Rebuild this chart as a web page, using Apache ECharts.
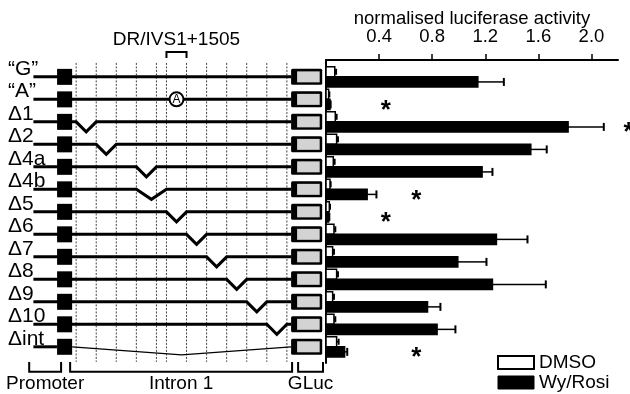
<!DOCTYPE html>
<html>
<head>
<meta charset="utf-8">
<script src="https://cdn.jsdelivr.net/npm/echarts@6/dist/echarts.min.js"></script>
<style>
  html, body { margin: 0; padding: 0; background: #fff; }
  #chart { width: 630px; height: 394px; }
</style>
</head>
<body>
<div id="chart"></div>
<script>
// constructs, top to bottom
const rowLabels = ["“G”", "“A”", "Δ1", "Δ2", "Δ4a", "Δ4b", "Δ5", "Δ6", "Δ7", "Δ8", "Δ9", "Δ10", "Δint"];
// normalised luciferase activity (mean, error)
const dmso = [0.066, 0.02, 0.07, 0.08, 0.055, 0.03, 0.025, 0.06, 0.05, 0.08, 0.05, 0.06, 0.08];
const dmsoErr = [0.01, 0.005, 0.01, 0.01, 0.01, 0.005, 0.005, 0.01, 0.01, 0.01, 0.01, 0.01, 0.015];
const wyRosi = [1.144, 0.03, 1.824, 1.543, 1.176, 0.31, 0.02, 1.284, 0.993, 1.254, 0.765, 0.837, 0.14];
const wyRosiErr = [0.196, 0.005, 0.269, 0.12, 0.078, 0.07, 0.005, 0.234, 0.216, 0.402, 0.097, 0.138, 0.02];
const xTicks = [0.4, 0.8, 1.2, 1.6, 2.0];
// significance stars
const starRows = [1, 2, 5, 6, 12];
const starX = [0.45, 2.28, 0.68, 0.45, 0.68];
// intron 1 schematic, in segment units
const intronMarks = [0, 1, 2, 3, 4, 4.5, 5.5, 6.5, 7.5, 8.5, 9.5, 10.5];
const delFrom = [null, null, 0, 1, 3, 3, 4.5, 5.5, 6.5, 7.5, 8.5, 9.5, 0];
const delTo = [null, null, 1, 2, 4, 4.5, 5.5, 6.5, 7.5, 8.5, 9.5, 10.5, 10.5];
const snpRow = 1;
const snpLabel = "A";
const drLabel = "DR/IVS1+1505";
const partNames = ["Promoter", "Intron 1", "GLuc"];
const partFrom = [-2.34, -0.3, 11.06];
const partTo = [-0.75, 10.76, 12.3];

const FONT = "Liberation Sans, Arial, Helvetica, sans-serif";
const LINE_START = -2.13;
const PROM = [-0.95, -0.2];
const GLUC = [10.71, 12.26];
const Y_MIN = -0.75, Y_MAX = 12.72;

let myChart = echarts.init(document.getElementById("chart"));

function barItem(side, capH) {
  return function (params, api) {
    let v = api.value(0), i = api.value(1), e = api.value(2);
    let c = api.coord([0, i]);
    let x1 = api.coord([v, i])[0];
    let xe = api.coord([v + e, i])[0];
    let h = Math.abs(api.size([0, 1])[1]) * 0.45;
    let top = side < 0 ? c[1] - h : c[1];
    let mid = top + h / 2;
    return {
      type: "group",
      children: [
        { type: "line", shape: { x1: x1, y1: mid, x2: xe, y2: mid }, style: { stroke: "#000", lineWidth: 1.5 } },
        { type: "line", shape: { x1: xe, y1: mid - capH / 2, x2: xe, y2: mid + capH / 2 }, style: { stroke: "#000", lineWidth: 2 } },
        { type: "rect", shape: { x: c[0], y: top, width: x1 - c[0], height: h }, style: { fill: api.visual("color"), stroke: "#000", lineWidth: 1.5 } },
      ],
    };
  };
}

function schematicRow(params, api) {
  let k = params.dataIndex;
  let i = api.value(1);
  let y = api.coord([0, i])[1];
  let X = function (u) { return api.coord([u, i])[0]; };
  let kids = [];
  let thick = { stroke: "#000", lineWidth: 3, fill: null };
  let a = delFrom[k], b = delTo[k];
  if (a == null) {
    kids.push({ type: "polyline", shape: { points: [[X(LINE_START), y], [X(GLUC[0]), y]] }, style: thick });
  } else if (a === intronMarks[0] && b === intronMarks[intronMarks.length - 1]) {
    // whole intron removed
    kids.push({ type: "polyline", shape: { points: [[X(LINE_START), y], [X(PROM[0]), y]] }, style: thick });
    kids.push({
      type: "polyline",
      shape: { points: [[X(PROM[1]), y], [X((PROM[1] + GLUC[0]) / 2), y + 8], [X(GLUC[0]), y]] },
      style: { stroke: "#000", lineWidth: 1.2, fill: null },
    });
  } else {
    kids.push({
      type: "polyline",
      shape: { points: [[X(LINE_START), y], [X(a), y], [X((a + b) / 2), y + 10], [X(b), y], [X(GLUC[0]), y]] },
      style: thick,
    });
  }
  // promoter
  kids.push({ type: "rect", shape: { x: X(PROM[0]), y: y - 8, width: X(PROM[1]) - X(PROM[0]), height: 16 }, style: { fill: "#000" } });
  // GLuc
  let g0 = X(GLUC[0]), g1 = X(GLUC[1]);
  kids.push({ type: "rect", shape: { x: g0, y: y - 8, width: g1 - g0, height: 16, r: 1.5 }, style: { fill: "#000" } });
  kids.push({ type: "rect", shape: { x: g0 + 6, y: y - 5.5, width: g1 - g0 - 8.5, height: 11 }, style: { fill: "#d3d3d3" } });
  if (k === snpRow) {
    let sx = X((intronMarks[5] + intronMarks[6]) / 2);
    kids.push({ type: "circle", shape: { cx: sx, cy: y, r: 7 }, style: { fill: "#fff", stroke: "#000", lineWidth: 2 } });
    kids.push({ type: "text", x: sx, y: y + 0.5, style: { text: snpLabel, fontSize: 12, fontFamily: FONT, fill: "#000", align: "center", verticalAlign: "middle" } });
  }
  kids.push({ type: "text", x: 8, y: y - 8, style: { text: rowLabels[k], fontSize: 21, fontFamily: FONT, fill: "#000", align: "left", verticalAlign: "middle" } });
  return { type: "group", children: kids };
}

function dottedMark(params, api) {
  let u = api.value(0);
  let p0 = api.coord([u, -0.62]);
  let p1 = api.coord([u, 12.67]);
  return { type: "line", shape: { x1: p0[0], y1: p0[1], x2: p1[0], y2: p1[1] }, style: { stroke: "#444", lineWidth: 1, lineDash: [2, 1.5] } };
}

function partBracket(params, api) {
  let k = params.dataIndex;
  let a = api.coord([api.value(0), 12.67]);
  let b = api.coord([api.value(1), 13.11]);
  let t = api.coord([(api.value(0) + api.value(1)) / 2, 13.64]);
  return {
    type: "group",
    children: [
      { type: "polyline", shape: { points: [[a[0], a[1]], [a[0], b[1]], [b[0], b[1]], [b[0], a[1]]] }, style: { stroke: "#000", lineWidth: 2, fill: null } },
      { type: "text", x: t[0], y: t[1], style: { text: partNames[k], fontSize: 19, fontFamily: FONT, fill: "#000", align: "center", verticalAlign: "middle" } },
    ],
  };
}

function drBracket(params, api) {
  let a = api.coord([api.value(0), -0.84]);
  let b = api.coord([api.value(1), -1.11]);
  let t = api.coord([(api.value(0) + api.value(1)) / 2, -1.64]);
  return {
    type: "group",
    children: [
      { type: "polyline", shape: { points: [[a[0], a[1]], [a[0], b[1]], [b[0], b[1]], [b[0], a[1]]] }, style: { stroke: "#000", lineWidth: 2, fill: null } },
      { type: "text", x: t[0], y: t[1], style: { text: drLabel, fontSize: 19, fontFamily: FONT, fill: "#000", align: "center", verticalAlign: "middle" } },
    ],
  };
}

function starItem(params, api) {
  let p = api.coord([api.value(0), api.value(1) + 0.5]);
  return { type: "text", x: p[0], y: p[1], style: { text: "*", fontSize: 26, fontWeight: "bold", fontFamily: FONT, fill: "#000", align: "center", verticalAlign: "middle" } };
}

let option = {
  animation: false,
  textStyle: { fontFamily: FONT },
  legend: {
    orient: "vertical",
    left: 497,
    top: 353,
    padding: 0,
    itemWidth: 36,
    itemHeight: 13,
    itemGap: 1,
    icon: "rect",
    textStyle: { fontSize: 19, color: "#000", fontFamily: FONT, lineHeight: 18 },
    data: [
      { name: "DMSO", itemStyle: { color: "#fff", borderColor: "#000", borderWidth: 2 } },
      { name: "Wy/Rosi", itemStyle: { color: "#000", borderColor: "#000", borderWidth: 1 } },
    ],
  },
  grid: [
    { left: 326, top: 60, width: 292, height: 303 },
    { left: 32, top: 60, width: 291, height: 303 },
  ],
  xAxis: [
    {
      gridIndex: 0,
      type: "value",
      position: "top",
      min: 0,
      max: 2.2,
      interval: 0.4,
      name: "normalised luciferase activity",
      nameLocation: "middle",
      nameGap: 32,
      nameMoveOverlap: false,
      nameTextStyle: { fontSize: 18.5, color: "#000", fontFamily: FONT },
      axisLine: { show: true, onZero: false, lineStyle: { color: "#000", width: 2 } },
      axisTick: { show: true, length: 6, customValues: xTicks, lineStyle: { color: "#000", width: 1.5 } },
      axisLabel: {
        customValues: xTicks,
        fontSize: 18.5,
        color: "#000",
        margin: 14,
        formatter: function (v) { return v.toFixed(1); },
      },
      splitLine: { show: false },
    },
    { gridIndex: 1, type: "value", min: -2.2, max: 12.3, show: false },
  ],
  yAxis: [
    {
      gridIndex: 0,
      type: "value",
      min: Y_MIN,
      max: Y_MAX,
      inverse: true,
      axisLine: { show: true, onZero: false, lineStyle: { color: "#000", width: 2 } },
      axisTick: { show: false },
      axisLabel: { show: false },
      splitLine: { show: false },
    },
    { gridIndex: 1, type: "value", min: Y_MIN, max: Y_MAX, inverse: true, show: false },
  ],
  series: [
    {
      type: "custom",
      xAxisIndex: 1,
      yAxisIndex: 1,
      clip: false,
      silent: true,
      renderItem: dottedMark,
      data: intronMarks.map(function (u) { return [u, 0]; }),
    },
    {
      type: "custom",
      xAxisIndex: 1,
      yAxisIndex: 1,
      clip: false,
      silent: true,
      renderItem: schematicRow,
      data: rowLabels.map(function (_, i) { return [0, i]; }),
    },
    {
      type: "custom",
      xAxisIndex: 1,
      yAxisIndex: 1,
      clip: false,
      silent: true,
      renderItem: partBracket,
      encode: { x: [0, 1], y: 2 },
      data: partNames.map(function (_, k) { return [partFrom[k], partTo[k], 12.67]; }),
    },
    {
      type: "custom",
      xAxisIndex: 1,
      yAxisIndex: 1,
      clip: false,
      silent: true,
      renderItem: drBracket,
      encode: { x: [0, 1], y: 2 },
      data: [[intronMarks[5], intronMarks[6], -1]],
    },
    {
      name: "DMSO",
      type: "custom",
      xAxisIndex: 0,
      yAxisIndex: 0,
      clip: false,
      itemStyle: { color: "#fff" },
      renderItem: barItem(-1, 6),
      encode: { x: 0, y: 1 },
      data: rowLabels.map(function (_, i) { return [dmso[i], i, dmsoErr[i]]; }),
    },
    {
      name: "Wy/Rosi",
      type: "custom",
      xAxisIndex: 0,
      yAxisIndex: 0,
      clip: false,
      itemStyle: { color: "#000" },
      renderItem: barItem(1, 8),
      encode: { x: 0, y: 1 },
      data: rowLabels.map(function (_, i) { return [wyRosi[i], i, wyRosiErr[i]]; }),
    },
    {
      type: "custom",
      xAxisIndex: 0,
      yAxisIndex: 0,
      clip: false,
      silent: true,
      renderItem: starItem,
      data: starRows.map(function (r, k) { return [starX[k], r]; }),
    },
  ],
};
myChart.setOption(option);
window.onresize = function () {
  myChart.resize();
};
</script>
</body>
</html>
